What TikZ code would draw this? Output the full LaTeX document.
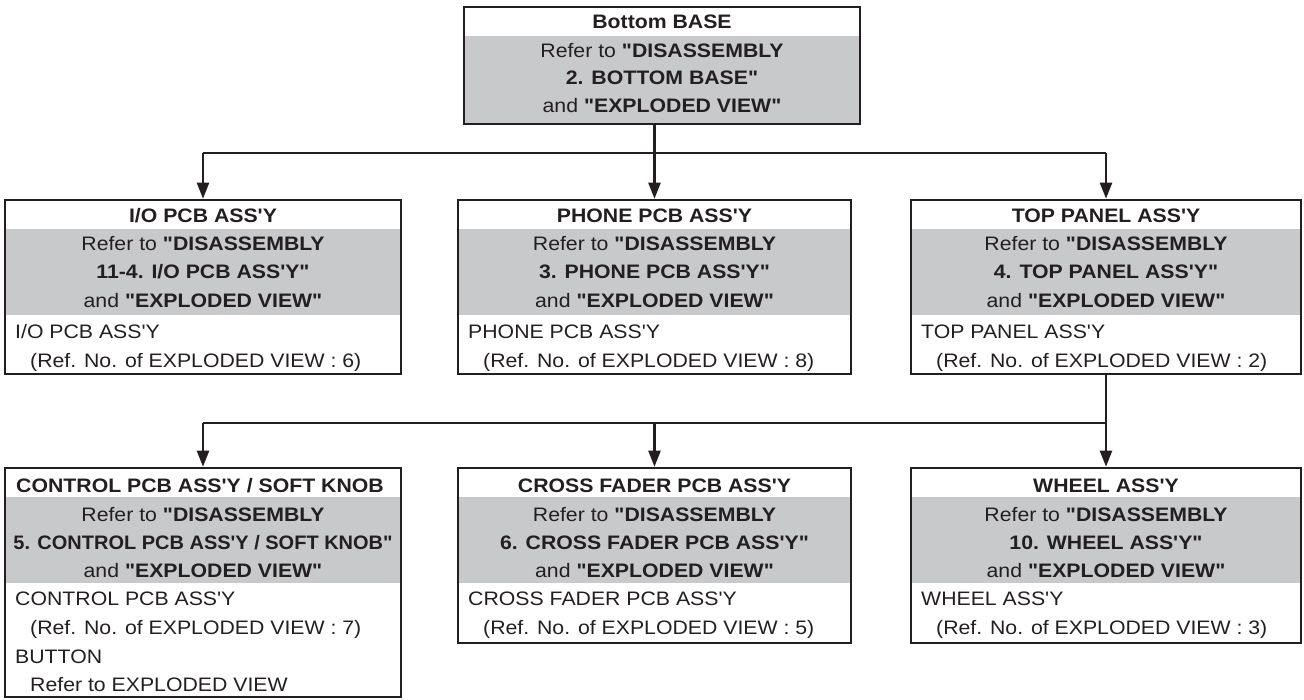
\documentclass[tikz,border=0pt]{standalone}
\usepackage{fontspec}
\usetikzlibrary{arrows.meta,fit}
\newfontfamily\dfont[FakeStretch=1.09]{Liberation Sans}
\newfontfamily\dfontn[FakeStretch=1.025]{Liberation Sans}
\definecolor{bandgray}{RGB}{200,201,203}
\definecolor{ink}{RGB}{35,31,32}
\tikzset{
  boxst/.style={draw=ink, line width=2.6pt, inner sep=0pt},
  band/.style={fill=bandgray},
  tl/.style={text=ink, inner sep=0pt, font=\dfont\fontsize{19.5}{22}\selectfont},
  tc/.style={tl, anchor=base},
  tw/.style={tl, anchor=base west},
  conn/.style={draw=ink, line width=2.3pt},
  arr/.style={conn, -{Triangle[length=16pt,width=12pt]}}
}
\newcommand\dbox[7]{%
  \fill[band] (#2,#6) rectangle (#4,#7);
  \node[boxst, fit={(#2,#3) (#4,#5)}] (#1) {};
}
\begin{document}
\begin{tikzpicture}[x=1pt,y=-1pt]
\useasboundingbox (0,0) rectangle (1304,699);
% top
\dbox{top}{464}{7}{860}{124}{36}{124}
\node[tc] (t1) at (662,28.5) {\bfseries Bottom BASE};
\node[tc] (t2) at (662,57) {Refer to \textbf{"DISASSEMBLY}};
\node[tc] (t3) at (662,84.5) {\bfseries 2. BOTTOM BASE"};
\node[tc] (t4) at (662,112) {and \textbf{"EXPLODED VIEW"}};
% row 2
\dbox{io}{5}{200}{401}{374}{229}{315}
\node[tc] (io1) at (203,222) {\bfseries I/O PCB ASS'Y};
\node[tc] (io2) at (203,250) {Refer to \textbf{"DISASSEMBLY}};
\node[tc] (io3) at (203,278) {\bfseries 11-4. I/O PCB ASS'Y"};
\node[tc] (io4) at (203,307) {and \textbf{"EXPLODED VIEW"}};
\node[tw] (io5) at (15,338) {I/O PCB ASS'Y};
\node[tw] (io6) at (30,367) {(Ref. No. of EXPLODED VIEW : 6)};
\dbox{ph}{458}{200}{851}{374}{229}{315}
\node[tc] (ph1) at (654.5,222) {\bfseries PHONE PCB ASS'Y};
\node[tc] (ph2) at (654.5,250) {Refer to \textbf{"DISASSEMBLY}};
\node[tc] (ph3) at (654.5,278) {\bfseries 3. PHONE PCB ASS'Y"};
\node[tc] (ph4) at (654.5,307) {and \textbf{"EXPLODED VIEW"}};
\node[tw] (ph5) at (468,338) {PHONE PCB ASS'Y};
\node[tw] (ph6) at (483,367) {(Ref. No. of EXPLODED VIEW : 8)};
\dbox{tp}{911}{200}{1301}{374}{229}{315}
\node[tc] (tp1) at (1106,222) {\bfseries TOP PANEL ASS'Y};
\node[tc] (tp2) at (1106,250) {Refer to \textbf{"DISASSEMBLY}};
\node[tc] (tp3) at (1106,278) {\bfseries 4. TOP PANEL ASS'Y"};
\node[tc] (tp4) at (1106,307) {and \textbf{"EXPLODED VIEW"}};
\node[tw] (tp5) at (921,338) {TOP PANEL ASS'Y};
\node[tw] (tp6) at (936,367) {(Ref. No. of EXPLODED VIEW : 2)};
% row 3
\dbox{cp}{5}{468}{401}{697}{497}{583}
\node[tc] (cp1) at (200,492) {\bfseries CONTROL PCB ASS'Y / SOFT KNOB};
\node[tc] (cp2) at (203,521) {Refer to \textbf{"DISASSEMBLY}};
\node[tc, font=\dfontn\fontsize{19.5}{22}\selectfont] (cp3) at (203,549) {\bfseries 5. CONTROL PCB ASS'Y / SOFT KNOB"};
\node[tc] (cp4) at (203,577) {and \textbf{"EXPLODED VIEW"}};
\node[tw] (cp5) at (15,605) {CONTROL PCB ASS'Y};
\node[tw] (cp6) at (30,634) {(Ref. No. of EXPLODED VIEW : 7)};
\node[tw] (cp7) at (15,663) {BUTTON};
\node[tw] (cp8) at (30,691) {Refer to EXPLODED VIEW};
\dbox{cf}{458}{468}{851}{643}{497}{583}
\node[tc] (cf1) at (654.5,492) {\bfseries CROSS FADER PCB ASS'Y};
\node[tc] (cf2) at (654.5,521) {Refer to \textbf{"DISASSEMBLY}};
\node[tc] (cf3) at (654.5,549) {\bfseries 6. CROSS FADER PCB ASS'Y"};
\node[tc] (cf4) at (654.5,577) {and \textbf{"EXPLODED VIEW"}};
\node[tw] (cf5) at (468,605) {CROSS FADER PCB ASS'Y};
\node[tw] (cf6) at (483,634) {(Ref. No. of EXPLODED VIEW : 5)};
\dbox{wh}{911}{468}{1301}{643}{497}{583}
\node[tc] (wh1) at (1106,492) {\bfseries WHEEL ASS'Y};
\node[tc] (wh2) at (1106,521) {Refer to \textbf{"DISASSEMBLY}};
\node[tc] (wh3) at (1106,549) {\bfseries 10. WHEEL ASS'Y"};
\node[tc] (wh4) at (1106,577) {and \textbf{"EXPLODED VIEW"}};
\node[tw] (wh5) at (921,605) {WHEEL ASS'Y};
\node[tw] (wh6) at (936,634) {(Ref. No. of EXPLODED VIEW : 3)};
% connectors
\coordinate (j1) at (654.5,153);
\coordinate (j2) at (1106,423);
\draw[conn] (top.south -| j1) -- (j1);
\draw[conn] (j1 -| io.north) -- (j1 -| tp.north);
\draw[arr] (j1 -| io.north) -- (io.north);
\draw[arr] (j1) -- (ph.north);
\draw[arr] (j1 -| tp.north) -- (tp.north);
\draw[conn] (tp.south) -- (j2);
\draw[conn] (j2 -| cp.north) -- (j2);
\draw[arr] (j2 -| cp.north) -- (cp.north);
\draw[arr] (j2 -| cf.north) -- (cf.north);
\draw[arr] (j2) -- (wh.north);
\end{tikzpicture}
\end{document}
